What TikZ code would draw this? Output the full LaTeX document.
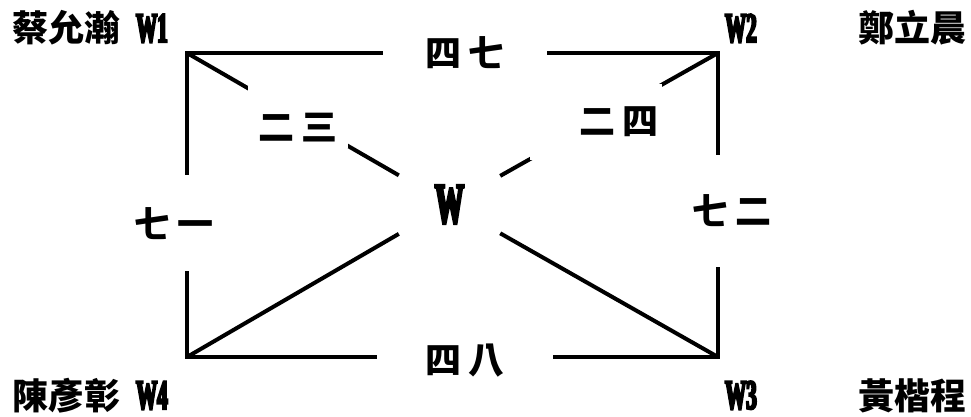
\documentclass[tikz,border=0pt]{standalone}
\usepackage{fontspec}
\setmainfont{Liberation Serif}
\newfontfamily\cjk{Noto Sans CJK TC}
\newfontfamily\latin{Liberation Serif}[FakeStretch=0.5, FakeBold=5]
\newcommand{\tagfont}{\latin\bfseries\fontsize{42}{46}\selectfont}
\newcommand{\cjkfont}{\cjk\bfseries\fontsize{36}{40}\selectfont}
\tikzset{
    edge/.style={line width=4pt, line join=miter},
    gap/.style={fill=white, inner sep=0pt, font=\cjkfont},
    person/.style={inner sep=0pt, anchor=base west, font=\cjkfont},
    tag/.style={inner sep=0pt, anchor=base west, font=\tagfont},
}

\begin{document}
\begin{tikzpicture}[x=1pt, y=-1pt]
    \useasboundingbox (0,0) rectangle (971,417);
    \coordinate (W1) at (187,53);
    \coordinate (W2) at (718,53);
    \coordinate (W3) at (718,357);
    \coordinate (W4) at (187,357);
    \node[minimum width=101pt, minimum height=59pt, inner sep=0pt,
        font=\latin\bfseries\fontsize{57}{60}\selectfont] (W) at (449.5,204.5) {W};

    % names at the corners
    \node[person] (n1) at (12,42) {蔡允瀚\hspace{16pt}{\tagfont W1}};
    \node[tag] (t2) at (725,42) {W2};
    \node[person] (n2) at (858,42) {鄭立晨};
    \node[person] (n4) at (12,409) {陳彥彰\hspace{16pt}{\tagfont W4}};
    \node[tag] (t3) at (725,409) {W3};
    \node[person] (n3) at (858,409) {黃楷程};

    % outer frame
    \draw[edge] (W4)
        -- node[gap, pos=0.44, xshift=-13pt, minimum width=80pt, minimum height=96pt] (s71) {七\kern7pt 一} (W1)
        -- node[gap, pos=0.524, minimum width=164pt, minimum height=40pt] (s47) {四\kern7pt 七} (W2)
        -- node[gap, pos=0.52, xshift=14pt, minimum width=60pt, minimum height=112pt] (s72) {七\kern7pt 二} (W3)
        -- node[gap, pos=0.476, yshift=-4pt, minimum width=176pt, minimum height=40pt] (s48) {四\kern7pt 八} (W4)
        -- cycle;

    % diagonals to the centre
    \draw[edge] (W1) -- node[gap, pos=0.524, minimum width=100pt, minimum height=62pt,
        text height=50pt, text depth=4pt] (d23) {二\kern7pt 三} (W);
    \draw[edge] (W2) -- node[gap, pos=0.56, minimum width=132pt, minimum height=76pt,
        text width=125pt, align=right] (d24) {二\kern7pt 四} (W);
    \draw[edge] (W3) -- (W);
    \draw[edge] (W4) -- (W);
\end{tikzpicture}
\end{document}
